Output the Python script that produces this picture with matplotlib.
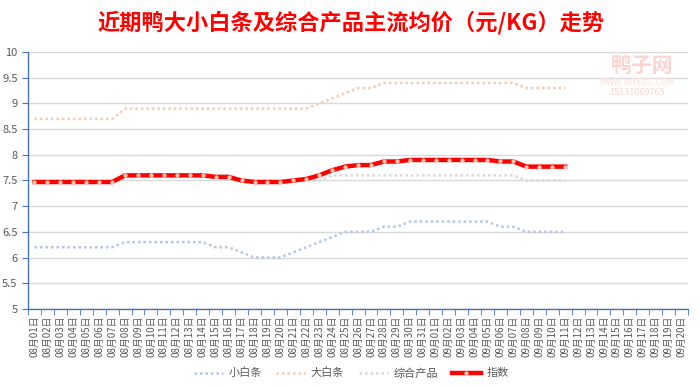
import numpy as np
import matplotlib
matplotlib.use("Agg")
import matplotlib.pyplot as plt

plt.rcParams['font.family'] = ['Noto Sans CJK SC', 'DejaVu Sans']

# categories: 08-01 .. 09-20
dates = ["08月%02d日" % d for d in range(1, 32)] + ["09月%02d日" % d for d in range(1, 21)]

# price series (data only up to 09-11)
small_white = [6.2, 6.2, 6.2, 6.2, 6.2, 6.2, 6.2,
               6.3, 6.3, 6.3, 6.3, 6.3, 6.3, 6.3,
               6.2, 6.2, 6.1, 6.0, 6.0, 6.0,
               6.1, 6.2, 6.3, 6.4,
               6.5, 6.5, 6.5, 6.6, 6.6,
               6.7, 6.7, 6.7, 6.7, 6.7, 6.7, 6.7,
               6.6, 6.6, 6.5, 6.5, 6.5, 6.5]
big_white = [8.7, 8.7, 8.7, 8.7, 8.7, 8.7, 8.7,
             8.9, 8.9, 8.9, 8.9, 8.9, 8.9, 8.9, 8.9, 8.9, 8.9, 8.9, 8.9, 8.9, 8.9, 8.9,
             9.0, 9.1, 9.2, 9.3, 9.3,
             9.4, 9.4, 9.4, 9.4, 9.4, 9.4, 9.4, 9.4, 9.4, 9.4, 9.4,
             9.3, 9.3, 9.3, 9.3]
mixed = [7.5, 7.5, 7.5, 7.5, 7.5, 7.5, 7.5,
         7.6, 7.6, 7.6, 7.6, 7.6, 7.6, 7.6, 7.6, 7.6,
         7.5, 7.5, 7.5, 7.5, 7.5, 7.5, 7.5,
         7.6, 7.6, 7.6, 7.6, 7.6, 7.6, 7.6, 7.6, 7.6, 7.6, 7.6, 7.6, 7.6, 7.6, 7.6,
         7.5, 7.5, 7.5, 7.5]
index_vals = [7.47, 7.47, 7.47, 7.47, 7.47, 7.47, 7.47,
              7.6, 7.6, 7.6, 7.6, 7.6, 7.6, 7.6,
              7.57, 7.57, 7.5, 7.47, 7.47, 7.47,
              7.5, 7.53, 7.6, 7.7, 7.77, 7.8, 7.8, 7.87, 7.87,
              7.9, 7.9, 7.9, 7.9, 7.9, 7.9, 7.9,
              7.87, 7.87, 7.77, 7.77, 7.77, 7.77]

fig = plt.figure(figsize=(7, 3.89), dpi=100)
ax = fig.add_axes([0.04, 0.206, 0.943, 0.66])

x = np.arange(len(dates))
dot = (0, (1, 1.2))
ax.plot(x[:len(small_white)], small_white, color='#b4c7e7', lw=1.8, ls=dot,
        dash_capstyle='butt', label='小白条')
ax.plot(x[:len(big_white)], big_white, color='#f8cbad', lw=1.8, ls=dot,
        dash_capstyle='butt', label='大白条')
ax.plot(x[:len(mixed)], mixed, color='#d9d9d9', lw=1.8, ls=dot,
        dash_capstyle='butt', label='综合产品')
ax.plot(x[:len(index_vals)], index_vals, color='#ff0000', lw=3.2,
        marker='o', ms=2.5, mfc='#ffc0b0', mec='#ffd0c0', mew=0.5, label='指数')

ax.set_xlim(-0.5, len(dates) - 0.5)
ax.set_ylim(5, 10)
ax.set_yticks(np.arange(5, 10.01, 0.5))
ax.set_yticklabels(['5', '5.5', '6', '6.5', '7', '7.5', '8', '8.5', '9', '9.5', '10'])
ax.yaxis.grid(True, color='#d9d9d9', lw=1)
ax.set_axisbelow(True)

ax.set_xticks(x)
ax.set_xticklabels(dates, rotation=90, fontsize=7, color='#595959')
ax.tick_params(axis='x', length=0, pad=5)
ax.set_xticks(np.arange(-0.5, len(dates), 1), minor=True)
ax.tick_params(axis='x', which='minor', length=4, color='#4472c4')
ax.tick_params(axis='y', length=4, color='#4472c4', labelsize=8, labelcolor='#595959')

for s in ['top', 'right']:
    ax.spines[s].set_visible(False)
for s in ['left', 'bottom']:
    ax.spines[s].set_color('#4472c4')
    ax.spines[s].set_linewidth(1)

fig.text(0.502, 0.943, '近期鸭大小白条及综合产品主流均价（元/KG）走势', color='#ff0000',
         fontsize=16, fontweight='bold', ha='center', va='center')

# watermark
fig.text(0.918, 0.83, '鸭子网', color='#fbd5d0', fontsize=15, fontweight='bold', ha='center', va='center')
fig.text(0.91, 0.788, 'WWW.INTEDC.COM', color='#fbe0dc', fontsize=6, ha='center', va='center')
fig.text(0.91, 0.763, '15131069765', color='#fbd5d0', fontsize=6.5, ha='center', va='center')

leg = fig.legend(loc='center', bbox_to_anchor=(0.502, 0.041), ncol=4, frameon=False,
                 fontsize=8, handlelength=2.6, columnspacing=1.3, handletextpad=0.5)
for t in leg.get_texts():
    t.set_color('#595959')

fig.savefig('out.png', dpi=100)
